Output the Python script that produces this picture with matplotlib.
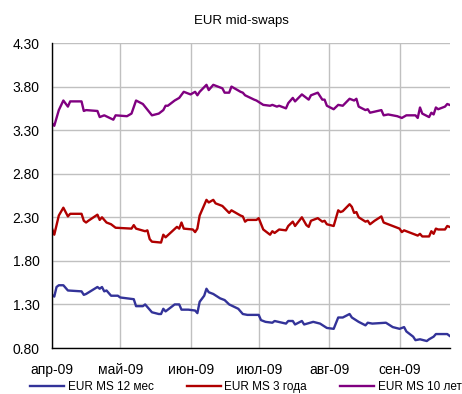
import matplotlib
matplotlib.use("Agg")
import matplotlib.pyplot as plt
import matplotlib.dates as mdates
import numpy as np
import pandas as pd

plt.rcParams['font.family'] = ['Liberation Sans', 'DejaVu Sans']

# данные (2009)
dates_12m = ['04-01', '04-02', '04-03', '04-04', '04-06', '04-08', '04-14', '04-15', '04-16',
             '04-21', '04-22', '04-23', '04-24', '04-25', '04-27', '04-30', '05-01', '05-07',
             '05-08', '05-11', '05-12', '05-15', '05-18', '05-19', '05-20', '05-21', '05-25',
             '05-27', '05-28', '05-31', '06-03', '06-04', '06-05', '06-07', '06-08', '06-09',
             '06-11', '06-14', '06-16', '06-18', '06-22', '06-24', '06-26', '07-01', '07-02',
             '07-04', '07-07', '07-08', '07-13', '07-14', '07-16', '07-17', '07-20', '07-21',
             '07-25', '07-28', '07-31', '08-03', '08-05', '08-07', '08-10', '08-11', '08-14',
             '08-17', '08-18', '08-20', '08-26', '08-29', '09-01', '09-03', '09-04', '09-07',
             '09-08', '09-10', '09-13', '09-14', '09-16', '09-17', '09-22', '09-23']
ms_12m = [1.41, 1.39, 1.50, 1.52, 1.52, 1.46, 1.45, 1.41, 1.42,
          1.50, 1.48, 1.50, 1.45, 1.46, 1.40, 1.40, 1.38, 1.36,
          1.28, 1.28, 1.30, 1.21, 1.19, 1.19, 1.25, 1.22, 1.30,
          1.30, 1.24, 1.24, 1.23, 1.20, 1.33, 1.40, 1.48, 1.44,
          1.42, 1.37, 1.35, 1.30, 1.25, 1.19, 1.18, 1.18, 1.12,
          1.10, 1.09, 1.11, 1.08, 1.11, 1.11, 1.07, 1.11, 1.07,
          1.10, 1.08, 1.03, 1.02, 1.15, 1.15, 1.19, 1.15, 1.10,
          1.06, 1.09, 1.08, 1.09, 1.04, 1.02, 1.04, 0.99, 0.93,
          0.89, 0.90, 0.88, 0.90, 0.93, 0.96, 0.96, 0.94]

dates_3y = ['04-01', '04-02', '04-04', '04-06', '04-08', '04-09', '04-14', '04-15', '04-16',
            '04-17', '04-21', '04-22', '04-23', '04-25', '04-27', '04-29', '05-06', '05-07',
            '05-08', '05-12', '05-13', '05-14', '05-15', '05-19', '05-20', '05-21', '05-26',
            '05-27', '05-28', '05-29', '06-02', '06-03', '06-04', '06-05', '06-08', '06-09',
            '06-11', '06-12', '06-15', '06-18', '06-19', '06-23', '06-24', '06-25', '06-26',
            '06-30', '07-01', '07-03', '07-06', '07-07', '07-08', '07-10', '07-13', '07-14',
            '07-16', '07-17', '07-20', '07-22', '07-23', '07-24', '07-27', '07-29', '07-30',
            '07-31', '08-03', '08-05', '08-06', '08-07', '08-10', '08-11', '08-12', '08-13',
            '08-14', '08-17', '08-18', '08-19', '08-21', '08-24', '08-25', '08-27', '09-01',
            '09-02', '09-03', '09-09', '09-10', '09-11', '09-14', '09-15', '09-16', '09-17',
            '09-18', '09-21', '09-22', '09-23']
ms_3y = [2.17, 2.10, 2.32, 2.41, 2.31, 2.34, 2.34, 2.26, 2.24,
         2.26, 2.33, 2.27, 2.30, 2.24, 2.22, 2.18, 2.17, 2.21,
         2.17, 2.14, 2.15, 2.05, 2.02, 2.01, 2.10, 2.07, 2.19,
         2.17, 2.24, 2.17, 2.16, 2.13, 2.17, 2.32, 2.50, 2.47,
         2.50, 2.46, 2.43, 2.35, 2.38, 2.32, 2.31, 2.25, 2.27,
         2.27, 2.29, 2.16, 2.10, 2.14, 2.12, 2.16, 2.15, 2.20,
         2.25, 2.20, 2.30, 2.21, 2.19, 2.26, 2.29, 2.25, 2.26,
         2.22, 2.20, 2.38, 2.36, 2.37, 2.45, 2.42, 2.35, 2.36,
         2.30, 2.25, 2.26, 2.22, 2.26, 2.31, 2.24, 2.22, 2.17,
         2.13, 2.15, 2.09, 2.11, 2.08, 2.08, 2.14, 2.11, 2.17,
         2.16, 2.16, 2.20, 2.19]

dates_10y = ['04-01', '04-02', '04-04', '04-06', '04-08', '04-09', '04-14', '04-15', '04-16',
             '04-21', '04-22', '04-24', '04-28', '04-29', '05-04', '05-06', '05-08', '05-11',
             '05-15', '05-18', '05-20', '05-21', '05-22', '05-25', '05-27', '05-29', '06-01',
             '06-03', '06-04', '06-05', '06-08', '06-09', '06-11', '06-15', '06-16', '06-18',
             '06-19', '06-23', '06-24', '06-25', '06-29', '06-30', '07-03', '07-06', '07-07',
             '07-09', '07-10', '07-13', '07-14', '07-16', '07-17', '07-20', '07-23', '07-24',
             '07-27', '07-29', '07-30', '07-31', '08-03', '08-05', '08-07', '08-10', '08-12',
             '08-13', '08-14', '08-17', '08-18', '08-19', '08-24', '08-25', '08-27', '08-31',
             '09-02', '09-04', '09-08', '09-09', '09-10', '09-11', '09-14', '09-15', '09-16',
             '09-17', '09-18', '09-21', '09-22', '09-23']
ms_10y = [3.38, 3.35, 3.53, 3.64, 3.57, 3.63, 3.63, 3.52, 3.53,
          3.52, 3.45, 3.47, 3.42, 3.47, 3.46, 3.49, 3.64, 3.60,
          3.47, 3.49, 3.53, 3.58, 3.58, 3.64, 3.67, 3.74, 3.71,
          3.74, 3.70, 3.74, 3.82, 3.76, 3.82, 3.78, 3.73, 3.73,
          3.80, 3.74, 3.73, 3.70, 3.65, 3.64, 3.59, 3.58, 3.59,
          3.57, 3.58, 3.55, 3.61, 3.67, 3.63, 3.71, 3.65, 3.70,
          3.73, 3.65, 3.65, 3.58, 3.54, 3.59, 3.58, 3.66, 3.64,
          3.66, 3.57, 3.53, 3.54, 3.50, 3.53, 3.47, 3.48, 3.46,
          3.44, 3.47, 3.47, 3.44, 3.56, 3.49, 3.45, 3.50, 3.48,
          3.56, 3.54, 3.57, 3.60, 3.59]

month_ticks = ['2009-04-01', '2009-05-01', '2009-06-01', '2009-07-01', '2009-08-01', '2009-09-01']
month_labels = ['апр-09', 'май-09', 'июн-09', 'июл-09', 'авг-09', 'сен-09']
y_ticks = [0.80, 1.30, 1.80, 2.30, 2.80, 3.30, 3.80, 4.30]
names = ['EUR MS 12 мес', 'EUR MS 3 года', 'EUR MS 10 лет']
colors = ['#333399', '#B00000', '#800080']


def to_dates(lst):
    return pd.to_datetime(['2009-' + d for d in lst])


fig = plt.figure(figsize=(4.62, 3.94), dpi=100)
ax = fig.add_axes([52 / 462, 1 - 348 / 394, (450 - 52) / 462, (348 - 43) / 394])

series = [(dates_12m, ms_12m), (dates_3y, ms_3y), (dates_10y, ms_10y)]
for (d, v), name, c in zip(series, names, colors):
    ax.plot(to_dates(d), v, color=c, lw=1.7, label=name, solid_joinstyle='round')

ax.set_xlim(pd.Timestamp('2009-04-01'), pd.Timestamp('2009-09-23 05:00'))
ax.set_ylim(0.80, 4.30)
ax.set_yticks(y_ticks)
ax.set_yticklabels(['%.2f' % t for t in y_ticks])
ax.set_xticks(pd.to_datetime(month_ticks))
ax.set_xticklabels(month_labels)
ax.tick_params(length=0, labelsize=10, colors='#000000')
ax.tick_params(axis='y', pad=9)
ax.tick_params(axis='x', pad=11)

ax.grid(True, color='#c0c0c0', lw=1)
ax.set_axisbelow(True)
for s in ['top', 'right']:
    ax.spines[s].set_visible(False)
ax.spines['left'].set_color('black')
ax.spines['bottom'].set_color('black')
ax.spines['left'].set_linewidth(1)
ax.spines['bottom'].set_linewidth(1)

fig.text(241 / 462, 1 - 21 / 394, 'EUR mid-swaps', ha='center', va='center', fontsize=9.5)

fig.legend(loc='center left', bbox_to_anchor=(30 / 462, 1 - 387 / 394), ncol=3,
           frameon=False, fontsize=8.5, handlelength=2.9, handletextpad=0.3,
           columnspacing=2.8, borderpad=0, borderaxespad=0)

fig.savefig('out.png', dpi=100)
